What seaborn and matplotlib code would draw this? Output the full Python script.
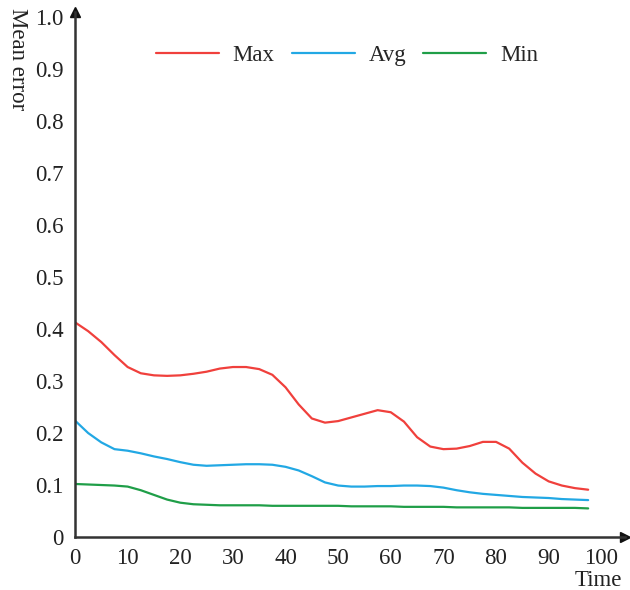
import matplotlib
matplotlib.use("Agg")
import matplotlib.pyplot as plt
import seaborn as sns
import pandas as pd

# values
time = [0, 2.5, 5, 7.5, 10, 12.5, 15, 17.5, 20, 22.5, 25, 27.5, 30, 32.5, 35, 37.5,
        40, 42.5, 45, 47.5, 50, 52.5, 55, 57.5, 60, 62.5, 65, 67.5, 70, 72.5, 75,
        77.5, 80, 82.5, 85, 87.5, 90, 92.5, 95, 97.5]

max_err = [0.413, 0.396, 0.375, 0.350, 0.327, 0.315, 0.311, 0.310, 0.311, 0.314,
           0.318, 0.324, 0.327, 0.327, 0.323, 0.312, 0.288, 0.255, 0.228, 0.220,
           0.223, 0.230, 0.237, 0.244, 0.240, 0.222, 0.192, 0.174, 0.169, 0.170,
           0.175, 0.183, 0.183, 0.170, 0.143, 0.122, 0.107, 0.099, 0.094, 0.091]

avg_err = [0.224, 0.200, 0.182, 0.169, 0.166, 0.161, 0.155, 0.150, 0.144, 0.139,
           0.137, 0.138, 0.139, 0.140, 0.140, 0.139, 0.135, 0.128, 0.117, 0.105,
           0.099, 0.097, 0.097, 0.098, 0.098, 0.099, 0.099, 0.098, 0.095, 0.090,
           0.086, 0.083, 0.081, 0.079, 0.077, 0.076, 0.075, 0.073, 0.072, 0.071]

min_err = [0.102, 0.101, 0.100, 0.099, 0.097, 0.090, 0.081, 0.072, 0.066, 0.063,
           0.062, 0.061, 0.061, 0.061, 0.061, 0.060, 0.060, 0.060, 0.060, 0.060,
           0.060, 0.059, 0.059, 0.059, 0.059, 0.058, 0.058, 0.058, 0.058, 0.057,
           0.057, 0.057, 0.057, 0.057, 0.056, 0.056, 0.056, 0.056, 0.056, 0.055]

series = ["Max", "Avg", "Min"]
colors = ["#f0403c", "#22a8e4", "#1f9e48"]

df = pd.DataFrame({
    "Time": time * 3,
    "Mean error": max_err + avg_err + min_err,
    "series": ["Max"] * len(time) + ["Avg"] * len(time) + ["Min"] * len(time),
})

sns.set_style("white")
plt.rcParams["font.family"] = ["Liberation Serif", "DejaVu Serif"]

fig = plt.figure(figsize=(6.3, 5.9), dpi=100)
ax = fig.add_axes([75 / 630, 1 - 537 / 590, 550 / 630, 525 / 590])

sns.lineplot(data=df, x="Time", y="Mean error", hue="series", hue_order=series,
             palette=colors, linewidth=1.6, ax=ax)

ax.set_xlim(0, 104.5)
ax.set_ylim(0, 1.01)
ax.set_xticks(range(0, 101, 10))
ax.set_yticks([i / 10 for i in range(11)])
ax.set_yticklabels(["0"] + ["%.1f" % (i / 10) for i in range(1, 11)])
ax.tick_params(length=0, labelsize=16.5, colors="#222222", pad=8)
ax.set_xlabel("")
ax.set_ylabel("")

for s in ["top", "right"]:
    ax.spines[s].set_visible(False)
for s in ["left", "bottom"]:
    ax.spines[s].set_linewidth(1.8)
    ax.spines[s].set_color("#333333")

# arrow heads at the axis ends
ax.plot(1, 0, ">", color="#111111", markersize=7, transform=ax.transAxes, clip_on=False)
ax.plot(0, 1, "^", color="#111111", markersize=7, transform=ax.transAxes, clip_on=False)

fig.text(0.028, 1 - 8 / 590, "Mean error", rotation=270, va="top", ha="center",
         fontsize=16.5, color="#222222")
fig.text(598 / 630, 1 - 580 / 590, "Time", ha="center", va="center",
         fontsize=16.5, color="#222222")

ax.legend(loc="center", bbox_to_anchor=(347 / 630, 1 - 55 / 590),
          bbox_transform=fig.transFigure, ncol=3, frameon=False,
          fontsize=16.5, handlelength=2.75, handletextpad=0.6, columnspacing=0.75)

fig.savefig("out.png", dpi=100)
